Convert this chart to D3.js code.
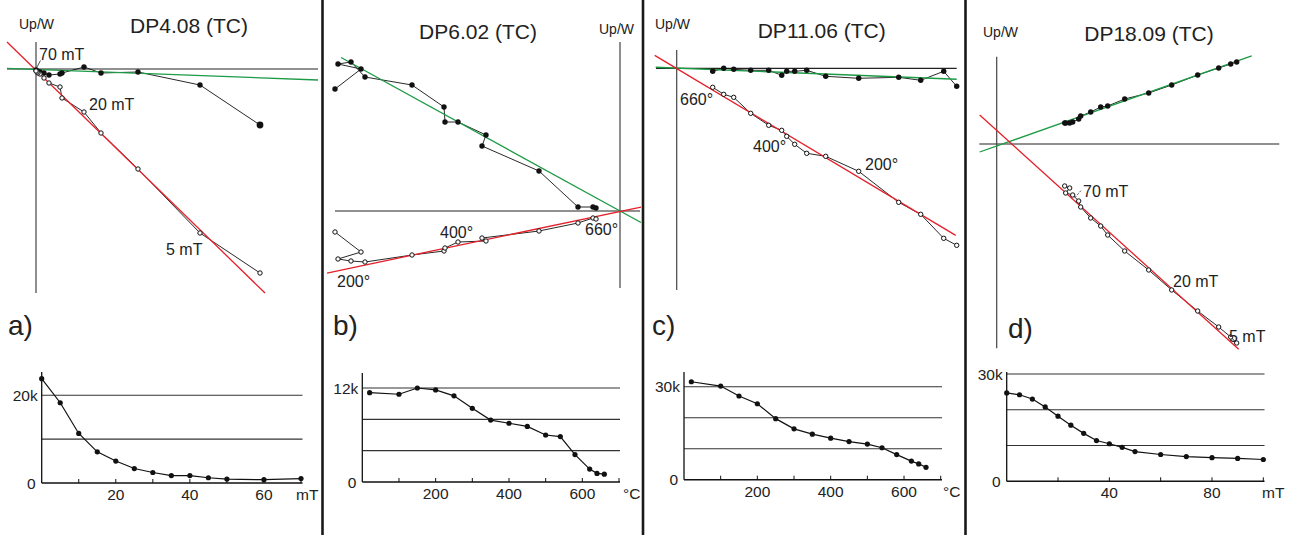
<!DOCTYPE html>
<html><head><meta charset="utf-8">
<script src="https://cdn.jsdelivr.net/npm/d3@7"></script>
<style>
body{margin:0;background:#fff}
svg{display:block}
text{font-family:"Liberation Sans", Arial, Helvetica, sans-serif; fill:#222}
</style>
</head><body>
<svg id="c" width="1293" height="535"></svg>
<script>
// ---------------- DATA ----------------
// Panel a: DP4.08 (AF, mT)
const stepsA = [0,5,10,15,20,25,30,35,40,45,50,60,70];
const zijA_x = [224,164,102,65,48,26,24,13,8,4,2,1,0];          // horizontal-axis component
const zijA_h = [-56,-16,-3,-4,2,-4,-5,-6,-4,-3,-3,-2,-1];       // horizontal projection (filled)
const zijA_v = [-204,-164,-100,-64,-43,-29,-18,-14,-9,-5,-4,-3,-2]; // vertical projection (open)
const intA   = [23.8,18.3,11.3,7.1,5.0,3.3,2.4,1.7,1.7,1.2,0.9,0.75,1.0];
const fitA   = [-0.0376, -0.4, -0.973, -1.2]; // green slope, intercept, red slope, intercept

// Panel b: DP6.02 (thermal, °C)
const stepsB = [20,100,150,200,250,300,350,400,450,500,540,580,620,640,660];
const zijB_x = [-285,-259,-282,-269,-255,-208,-176,-175,-162,-134,-138,-81,-42,-27,-24];
const zijB_h = [122,142,147,149,134,126,104,89,89,76,65,40,4,4,3];
const zijB_v = [-21,-41,-48,-50,-51,-44,-40,-37,-31,-30,-27,-20,-12,-7,-8];
const intB   = [11.4,11.2,12.0,11.75,11.0,9.4,7.9,7.5,7.1,6.0,5.8,3.5,1.65,1.1,1.0];
const fitB   = [-0.55, 0, 0.21, -0.5];

// Panel c: DP11.06 (thermal, °C)
const stepsC = [20,100,150,200,250,300,350,400,450,500,540,580,620,640,660];
const zijC_x = [280,267,244,222,182,149,130,118,110,105,92,74,57,47,36];
const zijC_h = [-18,-3,-12,-9,-10,-8,-2,-3,-3,-7,-2,-2,-1,0,-3];
const zijC_v = [-177,-170,-146,-134,-103,-88,-85,-76,-68,-62,-57,-45,-29,-26,-19];
const intC   = [31.6,30.2,27.0,24.5,19.7,16.4,14.7,13.4,12.3,11.5,10.3,8.1,6.0,5.1,4.0];
const fitC   = [-0.0399, 0.2, -0.598, -0.2];

// Panel d: DP18.09 (AF, mT)
const stepsD = [0,5,10,15,20,25,30,35,40,45,50,60,70,80,90,100];
const zijD_x = [240,234,222,201,175,152,128,111,104,94,84,82,76,69,73,68];
const zijD_h = [82,80,76,69,59,51,45,38,37,32,28,25,22,21,21,21];
const zijD_v = [-199,-193,-183,-167,-146,-126,-107,-91,-82,-74,-63,-57,-51,-49,-44,-42];
const intD   = [24.7,24.2,23.0,20.8,18.2,15.7,13.4,11.4,10.5,9.5,8.3,7.5,6.9,6.6,6.4,6.1];
const fitD   = [0.353, -2, -0.904, 13.6];

const titles = ["DP4.08 (TC)","DP6.02 (TC)","DP11.06 (TC)","DP18.09 (TC)"];
const panelLetters = ["a)","b)","c)","d)"];
const yTicksA = [10,20], yTicksB = [4,8,12], yTicksC = [10,20,30], yTicksD = [10,20,30];
const yLabA = ["0","20k"], yLabB = ["0","12k"], yLabC = ["0","30k"], yLabD = ["0","30k"];
const xLabA = [20,40,60], xLabB = [200,400,600], xLabC = [200,400,600], xLabD = [40,80];
const unitsAF = "mT", unitsTh = "\u00B0C";

// ---------------- LAYOUT ----------------
const svg = d3.select("#c");
const GREEN = "#1c9a45", RED = "#e5202a";

function zij(cfg, xs, hs, vs, fit, labels) {
  const g = svg.append("g");
  const xS = d3.scaleLinear().domain([0,100]).range([cfg.ox, cfg.ox+100]);
  const yS = d3.scaleLinear().domain([0,100]).range([cfg.oy, cfg.oy-100]);
  g.append("line").attr("x1", xS(cfg.xExt[0])).attr("x2", xS(cfg.xExt[1]))
    .attr("y1", yS(0)).attr("y2", yS(0)).attr("stroke","#222").attr("stroke-width",1.2);
  g.append("line").attr("x1", xS(0)).attr("x2", xS(0))
    .attr("y1", yS(cfg.yExt[0])).attr("y2", yS(cfg.yExt[1])).attr("stroke","#444").attr("stroke-width",1.2);
  const line = d3.line().x(d=>xS(d[0])).y(d=>yS(d[1]));
  const hp = xs.map((x,i)=>[x,hs[i]]), vp = xs.map((x,i)=>[x,vs[i]]);
  g.append("path").attr("d", line(hp)).attr("fill","none").attr("stroke","#111").attr("stroke-width",0.9);
  g.append("path").attr("d", line(vp)).attr("fill","none").attr("stroke","#111").attr("stroke-width",0.9);
  const fx = cfg.fitX;
  g.append("path").attr("d", line(fx[0].map(x=>[x, fit[0]*x+fit[1]])))
    .attr("stroke",GREEN).attr("stroke-width",1.3).attr("fill","none");
  g.append("path").attr("d", line(fx[1].map(x=>[x, fit[2]*x+fit[3]])))
    .attr("stroke",RED).attr("stroke-width",1.3).attr("fill","none");
  g.selectAll(null).data(hp).join("circle").attr("cx",d=>xS(d[0])).attr("cy",d=>yS(d[1]))
    .attr("r",(d,i)=> i===0 && cfg.bigFirst ? 3.4 : 2.7).attr("fill","#111");
  g.selectAll(null).data(vp).join("circle").attr("cx",d=>xS(d[0])).attr("cy",d=>yS(d[1]))
    .attr("r",2.2).attr("fill","#fff").attr("stroke","#111").attr("stroke-width",1);
  g.append("text").attr("x",cfg.upw[0]).attr("y",cfg.upw[1]).attr("font-size",14).text("Up/W");
  g.append("text").attr("x",cfg.title[0]).attr("y",cfg.title[1]).attr("font-size",21)
    .attr("text-anchor","middle").text(cfg.titleText);
  labels.forEach(l=>{
    g.append("text").attr("x",l[1]).attr("y",l[2]).attr("font-size",16).text(l[0]);
  });
  if (cfg.leader) g.append("line").attr("x1",cfg.leader[0]).attr("y1",cfg.leader[1])
    .attr("x2",cfg.leader[2]).attr("y2",cfg.leader[3]).attr("stroke","#222").attr("stroke-width",0.8)
    .attr("stroke-dasharray", cfg.leaderDash || null);
  g.append("text").attr("x",cfg.letter[0]).attr("y",cfg.letter[1]).attr("font-size",28).text(cfg.letterText);
}

function inten(cfg, steps, vals, yTicks, yLab, xLab, tickStep, unit) {
  const g = svg.append("g");
  const x = d3.scaleLinear().domain(cfg.xDom).range(cfg.xRange);
  const y = d3.scaleLinear().domain([0, cfg.yRef]).range([cfg.y0, cfg.yRefPx]);
  const left = x(0), right = cfg.axisEnd;
  g.selectAll(null).data(yTicks).join("line").attr("x1",left).attr("x2",right)
    .attr("y1",d=>y(d)).attr("y2",d=>y(d)).attr("stroke","#333").attr("stroke-width",1.1);
  g.append("line").attr("x1",left).attr("x2",right).attr("y1",y(0)).attr("y2",y(0))
    .attr("stroke","#111").attr("stroke-width",1.5);
  g.append("line").attr("x1",left).attr("x2",left).attr("y1",y(0)).attr("y2",cfg.axisTop)
    .attr("stroke","#111").attr("stroke-width",1.3);
  const ticks = d3.range(tickStep, cfg.xDom[1]+0.001, tickStep);
  g.selectAll(null).data(ticks).join("line").attr("x1",d=>x(d)).attr("x2",d=>x(d))
    .attr("y1",y(0)).attr("y2",y(0)-4).attr("stroke","#111").attr("stroke-width",1);
  g.selectAll(null).data(xLab).join("text").attr("x",d=>x(d)).attr("y",y(0)+17)
    .attr("text-anchor","middle").attr("font-size",15.5).text(d=>d);
  g.append("text").attr("x",cfg.unitX).attr("y",y(0)+17).attr("font-size",15.5).text(unit);
  g.append("text").attr("x",left-6).attr("y",y(0)).attr("dy","0.36em").attr("text-anchor","end")
    .attr("font-size",15.5).text(yLab[0]);
  g.append("text").attr("x",left-4).attr("y",y(yTicks[yTicks.length-1])).attr("dy","0.36em")
    .attr("text-anchor","end").attr("font-size",15.5).text(yLab[1]);
  const pts = steps.map((s,i)=>[s, vals[i]]);
  g.append("path").attr("d", d3.line().x(d=>x(d[0])).y(d=>y(d[1]))(pts))
    .attr("fill","none").attr("stroke","#111").attr("stroke-width",1.2);
  g.selectAll(null).data(pts).join("circle").attr("cx",d=>x(d[0])).attr("cy",d=>y(d[1]))
    .attr("r",2.6).attr("fill","#111");
}

zij({ox:36, oy:69, xExt:[-29,282], yExt:[27,-224], fitX:[[-29,282],[-29,229]], bigFirst:true,
     upw:[19,29], title:[189,33], titleText:titles[0], letter:[8,335], letterText:panelLetters[0],
     leader:[40.5,60.5,36.5,68]},
    zijA_x, zijA_h, zijA_v, fitA,
    [[stepsA[12]+" mT",39,60],[stepsA[4]+" mT",89,110],[stepsA[1]+" mT",166,255]]);
zij({ox:620, oy:211, xExt:[-285,20], yExt:[169,-77], fitX:[[-279,21],[-293,21]],
     upw:[599,34], title:[478,39], titleText:titles[1], letter:[333,335], letterText:panelLetters[1]},
    zijB_x, zijB_h, zijB_v, fitB,
    [["400\u00B0",440,238],["660\u00B0",585,235],["200\u00B0",337,287]]);
zij({ox:676.7, oy:68.3, xExt:[-20.7,280], yExt:[18.3,-221.7], fitX:[[-21,280],[-22,279]],
     upw:[655,29], title:[821.7,38], titleText:titles[2], letter:[652,335], letterText:panelLetters[2]},
    zijC_x, zijC_h, zijC_v, fitC,
    [["660\u00B0",680,105],["400\u00B0",753,152],["200\u00B0",865,170]]);
zij({ox:996.7, oy:144, xExt:[-17.4,282.6], yExt:[87.3,-204.3], fitX:[[-17,255],[-17,242]],
     upw:[983,37], title:[1149,41], titleText:titles[3], letter:[1008,338], letterText:panelLetters[3],
     leader:[1075,197.5,1081.5,190], leaderDash:"2,1.5"},
    zijD_x, zijD_h, zijD_v, fitD,
    [["70 mT",1083,197],["20 mT",1173,287],["5 mT",1229,342]]);

inten({xDom:[0,70], xRange:[41.7,301], axisEnd:302.5, yRef:20, y0:483, yRefPx:395.3, axisTop:372, unitX:296},
      stepsA, intA, yTicksA, yLabA, xLabA, 10, unitsAF);
inten({xDom:[0,700], xRange:[362.3,619], axisEnd:620, yRef:12, y0:482, yRefPx:388, axisTop:373, unitX:623},
      stepsB, intB, yTicksB, yLabB, xLabB, 100, unitsTh);
inten({xDom:[0,700], xRange:[684,940.7], axisEnd:942, yRef:30, y0:479.7, yRefPx:386.7, axisTop:372, unitX:943},
      stepsC, intC, yTicksC, yLabC, xLabC, 100, unitsTh);
inten({xDom:[0,100], xRange:[1006.7,1263.3], axisEnd:1264.5, yRef:30, y0:481.3, yRefPx:374, axisTop:372, unitX:1262},
      stepsD, intD, yTicksD, yLabD, xLabD, 20, unitsAF);

svg.selectAll(null).data([322.5, 643, 965.5]).join("line")
  .attr("x1",d=>d).attr("x2",d=>d).attr("y1",0).attr("y2",535)
  .attr("stroke","#1a1a1a").attr("stroke-width",2.6);
</script>
</body></html>
